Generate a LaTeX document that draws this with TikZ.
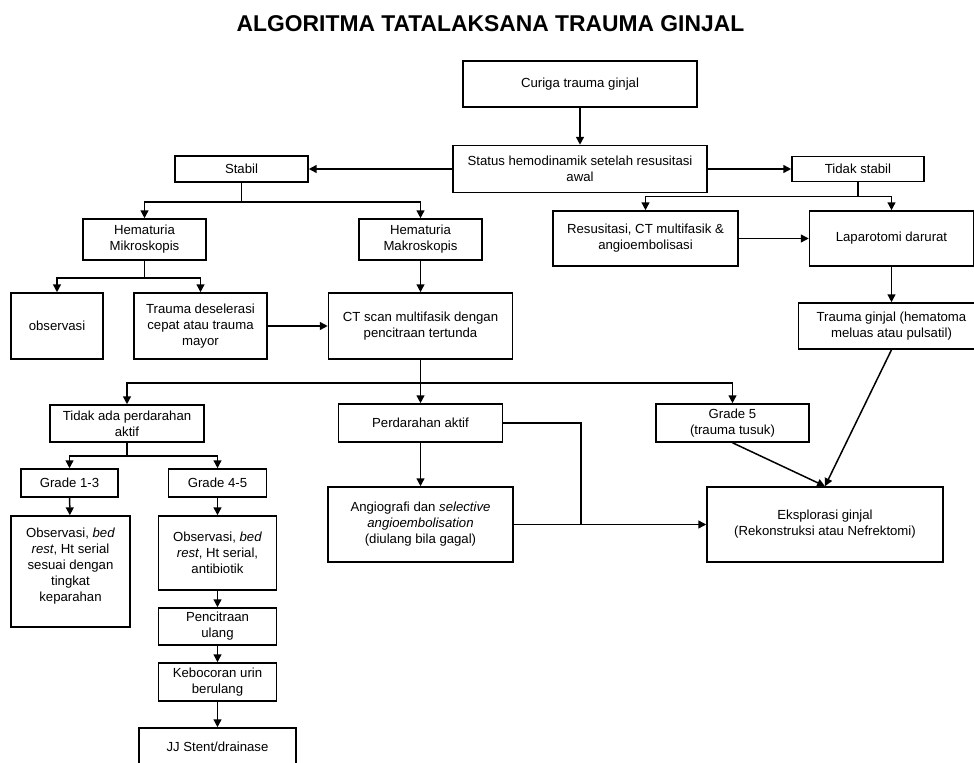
\documentclass[tikz,border=0pt]{standalone}
\usepackage{fontspec}
\setmainfont{Liberation Sans}
\usetikzlibrary{arrows.meta}

\begin{document}
\begin{tikzpicture}[x=0.02cm, y=-0.02cm,
  every node/.style={font=\fontsize{7.5}{9.1}\selectfont},
  box/.style={draw, line width=0.9pt, align=center, inner sep=1pt},
  arr/.style={line width=0.85pt, -{Triangle[length=4.5pt,width=4.5pt]}},
  con/.style={line width=0.85pt}]
\useasboundingbox (0,0) rectangle (974,763);
\node[font=\bfseries\fontsize{13}{15}\selectfont] (title) at (490.5,23.5) {ALGORITMA TATALAKSANA TRAUMA GINJAL};

\node[box, minimum width=4.68cm, minimum height=0.92cm] (curiga) at (580,84) {Curiga trauma ginjal};
\node[box, minimum width=5.08cm, minimum height=0.94cm] (status) at (580,169) {Status hemodinamik setelah resusitasi\\awal};
\node[box, minimum width=2.66cm, minimum height=0.52cm] (stabil) at (241.5,169) {Stabil};
\node[box, minimum width=2.64cm, minimum height=0.5cm] (tstabil) at (858,169) {Tidak stabil};

\node[box, minimum width=2.46cm, minimum height=0.82cm] (mikro) at (144.5,239.5) {Hematuria\\Mikroskopis};
\node[box, minimum width=2.46cm, minimum height=0.82cm] (makro) at (420.5,239.5) {Hematuria\\Makroskopis};
\node[box, minimum width=3.7cm, minimum height=1.1cm] (resus) at (645.5,238.5) {Resusitasi, CT multifasik \&\\angioembolisasi};
\node[box, minimum width=3.28cm, minimum height=1.1cm] (lapar) at (891.5,238.5) {Laparotomi darurat};

\node[box, minimum width=1.84cm, minimum height=1.32cm] (obs) at (57,326) {observasi};
\node[box, minimum width=2.66cm, minimum height=1.32cm] (desel) at (200.5,326) {Trauma deselerasi\\cepat atau trauma\\mayor};
\node[box, minimum width=3.68cm, minimum height=1.32cm] (ct) at (420.5,326) {CT scan multifasik dengan\\pencitraan tertunda};
\node[box, minimum width=3.72cm, minimum height=0.92cm] (tginjal) at (891.5,326) {Trauma ginjal (hematoma\\meluas atau pulsatil)};

\node[box, minimum width=3.08cm, minimum height=0.74cm] (tidak) at (127,423.5) {Tidak ada perdarahan\\aktif};
\node[box, minimum width=3.28cm, minimum height=0.76cm] (perd) at (420.5,423) {Perdarahan aktif};
\node[box, minimum width=3.06cm, minimum height=0.76cm] (grade5) at (732.5,423) {Grade 5\\(trauma tusuk)};

\node[box, minimum width=1.94cm, minimum height=0.56cm] (g13) at (69.5,483) {Grade 1-3};
\node[box, minimum width=1.96cm, minimum height=0.56cm] (g45) at (217.5,483) {Grade 4-5};
\node[box, minimum width=3.7cm, minimum height=1.5cm] (angio) at (420.5,524.5) {Angiografi dan \textit{selective}\\\textit{angioembolisation}\\(diulang bila gagal)};
\node[box, minimum width=4.72cm, minimum height=1.5cm] (ekspl) at (825,524.5) {Eksplorasi ginjal\\(Rekonstruksi atau Nefrektomi)};

\node[box, minimum width=2.38cm, minimum height=2.22cm, text depth=0.28cm] (obsL) at (70.5,571.5) {Observasi, \textit{bed}\\\textit{rest}, Ht serial\\sesuai dengan\\tingkat\\keparahan};
\node[box, minimum width=2.36cm, minimum height=1.48cm] (obsR) at (217.5,553) {Observasi, \textit{bed}\\\textit{rest}, Ht serial,\\antibiotik};
\node[box, minimum width=2.36cm, minimum height=0.74cm] (pencit) at (217.5,626.5) {Pencitraan\\ulang};
\node[box, minimum width=2.36cm, minimum height=0.76cm] (keboc) at (217.5,682) {Kebocoran urin\\berulang};
\node[box, minimum width=3.14cm, minimum height=0.76cm] (jj) at (217.5,747) {JJ Stent/drainase};

\draw[arr] (curiga) -- (status);
\draw[arr] (status) -- (stabil);
\draw[arr] (status) -- (tstabil);
\draw[arr] (stabil.south) -- ++(0,19) -| (mikro.north);
\draw[arr] (stabil.south) -- ++(0,19) -| (makro.north);
\draw[arr] (tstabil.south) -- ++(0,14) -| (resus.north);
\draw[arr] (tstabil.south) -- ++(0,14) -| (lapar.north);
\draw[arr] (resus) -- (lapar);
\draw[arr] (lapar) -- (tginjal);
\draw[arr] (tginjal.south) -- (ekspl.north);
\draw[arr] (mikro.south) -- ++(0,17) -| (obs.north);
\draw[arr] (mikro.south) -- ++(0,17) -| (desel.north);
\draw[arr] (makro) -- (ct);
\draw[arr] (desel) -- (ct);
\draw[arr] (ct.south) -- ++(0,23) -| (tidak.north);
\draw[arr] (ct) -- (perd);
\draw[arr] (ct.south) -- ++(0,23) -| (grade5.north);
\draw[arr] (perd) -- (angio);
\draw[arr] (grade5.south) -- (ekspl.north);
\coordinate (join) at (581,524.5);
\draw[con] (perd.east) -| (join);
\draw[arr] (angio) -- (ekspl);
\draw[arr] (tidak.south) -- ++(0,13) -| (g13.north);
\draw[arr] (tidak.south) -- ++(0,13) -| (g45.north);
\draw[arr] (g13) -- (obsL);
\draw[arr] (g45) -- (obsR);
\draw[arr] (obsR) -- (pencit);
\draw[arr] (pencit) -- (keboc);
\draw[arr] (keboc) -- (jj);
\end{tikzpicture}
\end{document}
